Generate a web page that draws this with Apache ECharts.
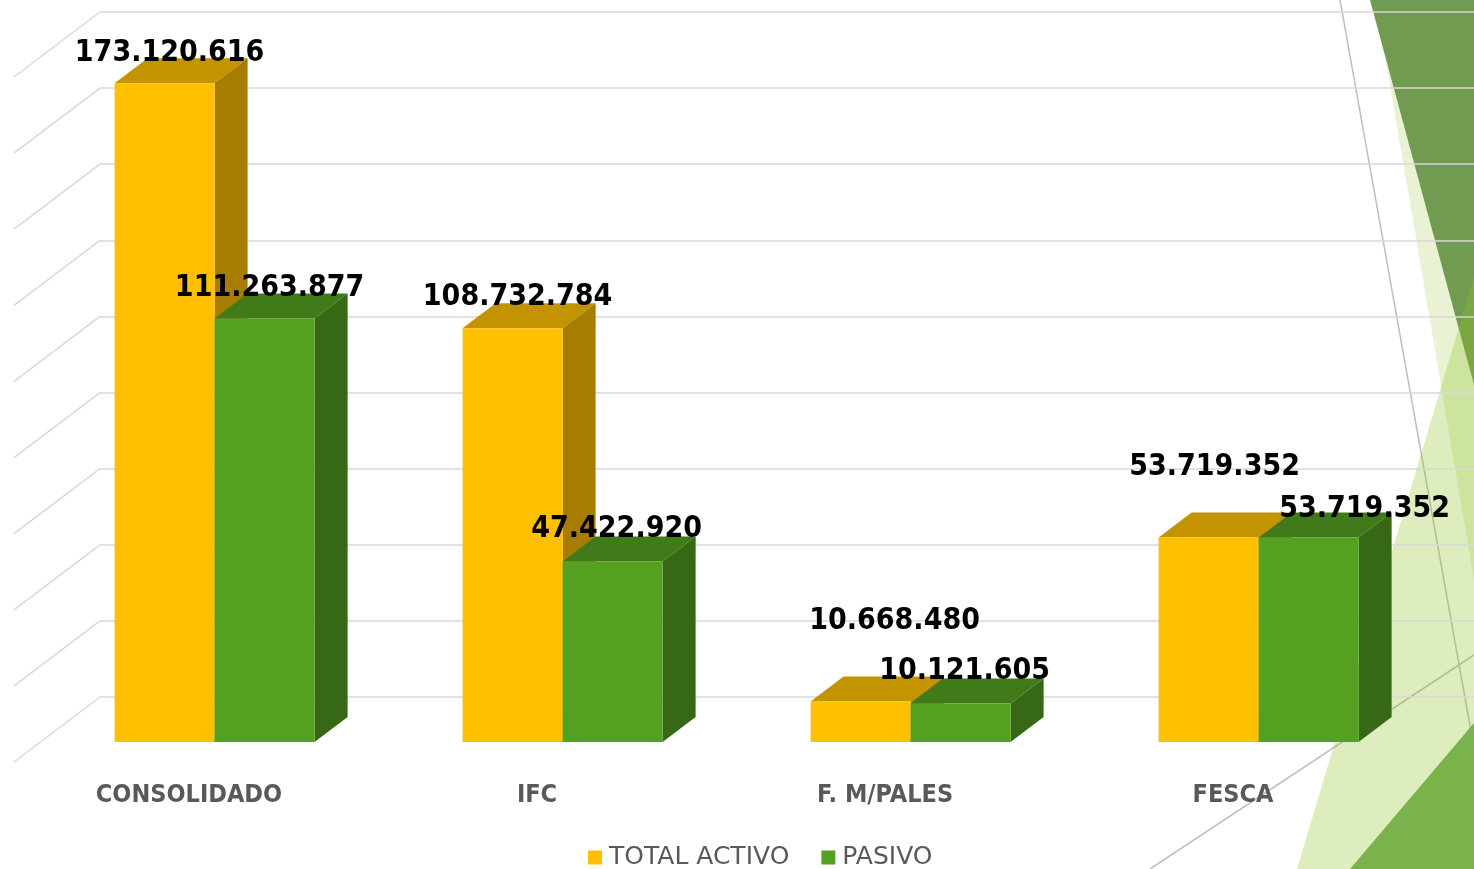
<!DOCTYPE html>
<html><head><meta charset="utf-8">
<script src="https://cdn.jsdelivr.net/npm/echarts@6/dist/echarts.min.js"></script>
<style>html,body{margin:0;padding:0;background:#fff}#chart{width:1474px;height:869px}</style>
</head><body><div id="chart"></div>
<script>
// ---- data ----
const categories = ['CONSOLIDADO', 'IFC', 'F. M/PALES', 'FESCA'];
const seriesNames = ['TOTAL ACTIVO', 'PASIVO'];
const totalActivo = [173120616, 108732784, 10668480, 53719352];
const pasivo = [111263877, 47422920, 10121605, 53719352];
const yTicks = [0, 20000000, 40000000, 60000000, 80000000, 100000000, 120000000, 140000000, 160000000, 180000000];

// ---- styling ----
const FRONT_DX = -59.4, FRONT_DY = 45;   // bar front plane offset from back wall
const DEPTH_DX = 33, DEPTH_DY = -25;     // bar depth
const FLOOR_DX = -86, FLOOR_DY = 65;     // left wall depth
const BAR_FRAC = 0.2874;
const colorsActivo = { front: '#FFC000', top: '#C49400', side: '#A67D00' };
const colorsPasivo = { front: '#54A021', top: '#417B19', side: '#376815' };
const labelOffsetsActivo = [[5, -30], [5, -31], [34, -80], [6, -70]];
const labelOffsetsPasivo = [[5, -30], [4, -32], [4, -32], [56, -28]];
const LABEL_FONT = 'bold 30px "DejaVu Sans Condensed", "DejaVu Sans", sans-serif';

function fmt(n) { return String(n).replace(/\B(?=(\d{3})+(?!\d))/g, '.'); }

function makeBarRender(isFirst, colors, offsets) {
  return function (params, api) {
    const ci = api.value(0), v = api.value(1);
    const p = api.coord([ci, v]);
    const b = api.coord([ci, 0]);
    const bw = api.size([1, 0])[0] * BAR_FRAC;
    const cx = p[0] + FRONT_DX;
    const x0 = isFirst ? cx - bw : cx, x1 = x0 + bw;
    const top = p[1] + FRONT_DY, bot = b[1] + FRONT_DY;
    const off = offsets[params.dataIndex];
    return {
      type: 'group',
      children: [
        { type: 'polygon', shape: { points: [[x0, top], [x1, top], [x1 + DEPTH_DX, top + DEPTH_DY], [x0 + DEPTH_DX, top + DEPTH_DY]] }, style: { fill: colors.top } },
        { type: 'polygon', shape: { points: [[x1, top], [x1 + DEPTH_DX, top + DEPTH_DY], [x1 + DEPTH_DX, bot + DEPTH_DY], [x1, bot]] }, style: { fill: colors.side } },
        { type: 'rect', shape: { x: x0, y: top, width: bw, height: bot - top }, style: { fill: colors.front } },
        { type: 'text', z2: 100, style: { text: fmt(v), x: (x0 + x1) / 2 + off[0], y: top + off[1], align: 'center', verticalAlign: 'middle', textAlign: 'center', textVerticalAlign: 'middle', font: LABEL_FONT, fill: '#000' } }
      ]
    };
  };
}

const chart = echarts.init(document.getElementById('chart'), null, { renderer: 'canvas' });
chart.setOption({
  backgroundColor: '#fff',
  animation: false,
  graphic: [
    { type: 'line', z: -6, shape: { x1: 1340, y1: 0, x2: 1474, y2: 748 }, style: { stroke: '#BFBFBF', lineWidth: 1.5 } },
    { type: 'line', z: -6, shape: { x1: 1150, y1: 869, x2: 1474, y2: 655 }, style: { stroke: '#BFBFBF', lineWidth: 1.5 } },
    { type: 'polygon', z: -5, shape: { points: [[1384, 50], [1474, 385], [1474, 580]] }, style: { fill: 'rgba(144,194,38,0.2)' } },
    { type: 'polygon', z: -4, shape: { points: [[1370, 0], [1474, 0], [1474, 385]] }, style: { fill: '#719B50' } },
    { type: 'polygon', z: -3, shape: { points: [[1474, 277], [1297, 869], [1474, 869]] }, style: { fill: 'rgba(144,194,38,0.3)' } },
    { type: 'polygon', z: -2, shape: { points: [[1350, 869], [1474, 723], [1474, 869]] }, style: { fill: '#7AB24C' } }
  ],
  grid: { left: 100, top: 12, width: 1392, bottom: 172, containLabel: false, outerBoundsMode: 'none' },
  legend: {
    data: seriesNames,
    left: 583, top: 840,
    icon: 'rect', itemWidth: 14, itemHeight: 14, itemGap: 32,
    textStyle: { color: '#595959', fontSize: 25, fontFamily: '"DejaVu Sans", sans-serif', padding: [0, 0, 0, 2] }
  },
  xAxis: {
    type: 'category', data: categories,
    axisLine: { show: false }, axisTick: { show: false }, splitLine: { show: false },
    axisLabel: {
      margin: 86, color: '#595959', fontSize: 25, fontWeight: 'bold',
      fontFamily: '"DejaVu Sans Condensed", "DejaVu Sans", sans-serif',
      padding: [0, 170, 0, 0], interval: 0
    }
  },
  yAxis: {
    type: 'value', min: 0, max: 180000000, interval: 20000000,
    axisLabel: { show: false }, axisLine: { show: false }, axisTick: { show: false },
    splitLine: { show: true, lineStyle: { color: '#D9D9D9', width: 1.5 } }
  },
  series: [
    {
      type: 'custom', name: 'wall', silent: true, z: 1,
      data: yTicks.map(t => [0, t]),
      renderItem: function (params, api) {
        const p = api.coord([0, api.value(1)]);
        const x = params.coordSys.x;
        return { type: 'line', shape: { x1: x, y1: p[1], x2: x + FLOOR_DX, y2: p[1] + FLOOR_DY }, style: { stroke: '#D9D9D9', lineWidth: 1.5 } };
      }
    },
    {
      type: 'custom', name: seriesNames[0], z: 2,
      itemStyle: { color: colorsActivo.front },
      data: totalActivo.map((v, i) => [i, v]),
      renderItem: makeBarRender(true, colorsActivo, labelOffsetsActivo)
    },
    {
      type: 'custom', name: seriesNames[1], z: 2,
      itemStyle: { color: colorsPasivo.front },
      data: pasivo.map((v, i) => [i, v]),
      renderItem: makeBarRender(false, colorsPasivo, labelOffsetsPasivo)
    }
  ]
});
</script>
</body></html>
